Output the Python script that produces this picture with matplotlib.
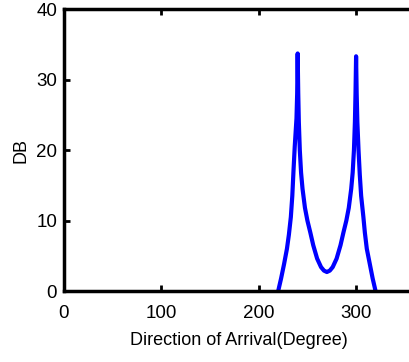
import matplotlib
matplotlib.use("Agg")
import matplotlib.pyplot as plt

plt.rcParams["font.family"] = ["Liberation Sans", "DejaVu Sans"]

# spectrum: direction (deg) and level (dB)
doa = [220, 223, 226, 229, 231, 233, 234.5, 235.7, 237, 238.8, 239.5, 240,
       240.6, 241.2, 242.2, 243.5, 245, 247.5, 250, 253, 256, 260, 264,
       267, 270, 273, 276, 280, 284, 287, 290, 292.5, 295, 296.5, 297.8,
       298.8, 299.4, 300, 300.6, 301.3, 302.5, 303.8, 305.2, 307.5, 309,
       311, 314, 317, 320]
db = [0.0, 1.8, 3.8, 6.0, 8.0, 10.5, 13.5, 17.0, 20.5, 24.5, 28.0, 33.7,
      28.0, 24.0, 20.0, 16.8, 14.5, 11.8, 10.0, 8.3, 6.5, 4.6, 3.4,
      2.9, 2.7, 2.9, 3.4, 4.6, 6.5, 8.3, 10.0, 11.8, 14.5, 16.8, 20.0,
      24.0, 28.0, 33.3, 28.0, 24.0, 20.0, 16.5, 13.5, 10.5, 8.3,
      6.0, 3.9, 1.8, 0.0]
xticks = [0, 100, 200, 300]
yticks = [0, 10, 20, 30, 40]

fig = plt.figure(figsize=(4.10, 3.62), dpi=100)
ax = fig.add_axes([0.156, 0.196, 0.855, 0.779])
ax.plot(doa, db, color="#0000ff", lw=3, solid_joinstyle="round")

ax.set_xlim(0, 360)
ax.set_ylim(0, 40)
ax.set_xticks(xticks)
ax.set_yticks(yticks)
ax.tick_params(direction="in", length=4, width=2, labelsize=13.5,
               top=True, right=True)
ax.tick_params(axis="x", pad=10)
ax.tick_params(axis="y", pad=5)
for s in ax.spines.values():
    s.set_linewidth(2.5)
ax.set_xlabel("Direction of Arrival(Degree)", fontsize=13, labelpad=7)
ax.set_ylabel("DB", fontsize=13, labelpad=5)

fig.savefig("out.png", dpi=100)
